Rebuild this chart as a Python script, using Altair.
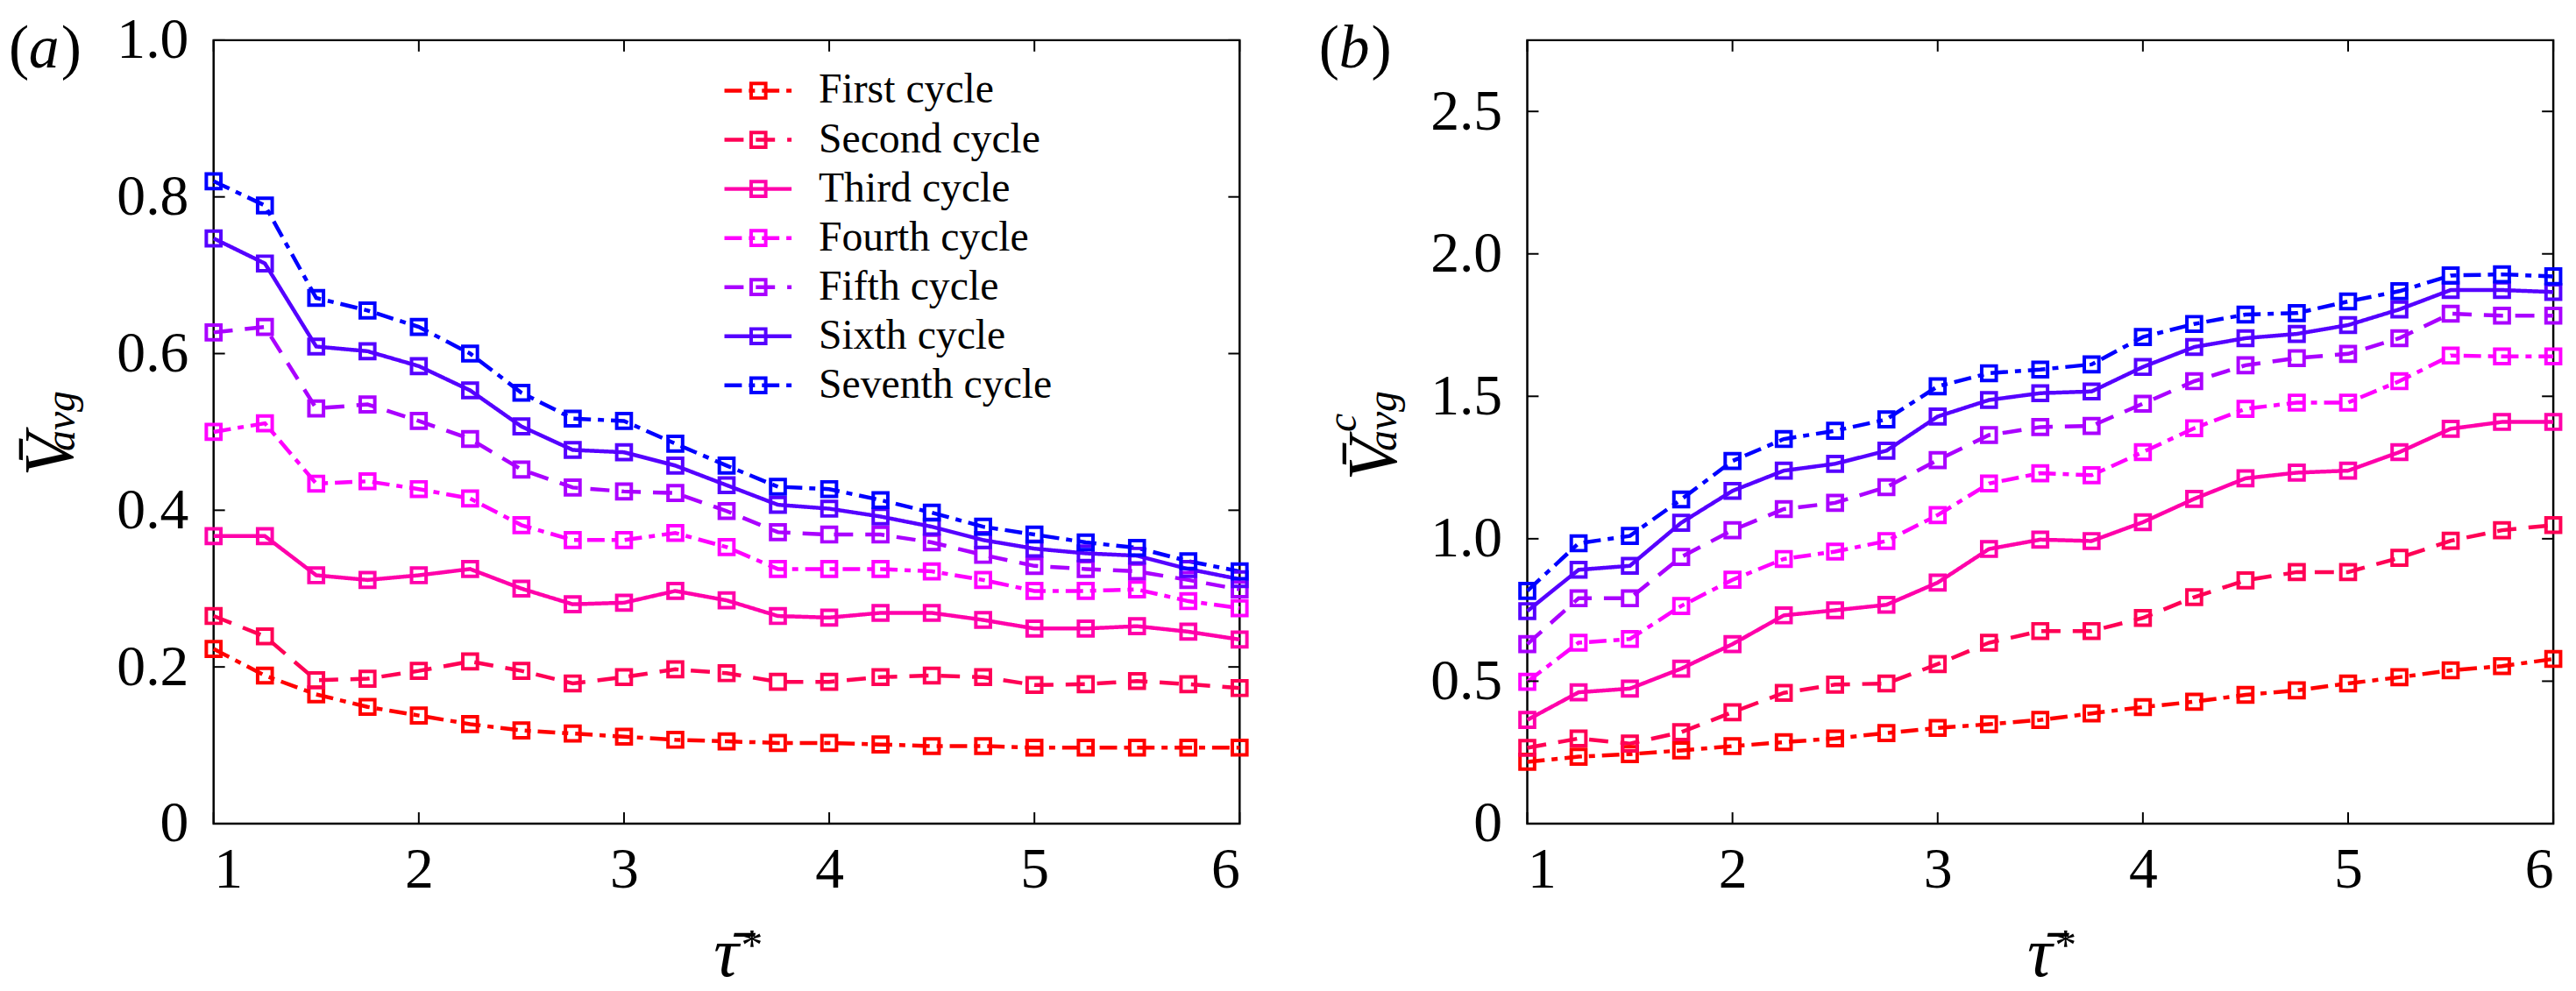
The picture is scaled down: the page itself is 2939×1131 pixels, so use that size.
import altair as alt
import pandas as pd

# ---------------- data ----------------
tau = [1.0, 1.25, 1.5, 1.75, 2.0, 2.25, 2.5, 2.75, 3.0, 3.25, 3.5,
       3.75, 4.0, 4.25, 4.5, 4.75, 5.0, 5.25, 5.5, 5.75, 6.0]

cycles = ["First cycle", "Second cycle", "Third cycle", "Fourth cycle",
          "Fifth cycle", "Sixth cycle", "Seventh cycle"]
colors = ["#FF0000", "#FF0055", "#FF00AA", "#FF00FF", "#AA00FF", "#5500FF", "#0000FF"]
dashes = [[20, 8, 7, 8], [22, 14], [1, 0], [20, 8, 7, 8], [22, 14], [1, 0], [20, 8, 7, 8]]

# panel (a): V_avg
a_first = [0.223, 0.189, 0.165, 0.149, 0.138, 0.127, 0.119, 0.115, 0.111, 0.107, 0.105,
           0.103, 0.103, 0.101, 0.099, 0.099, 0.097, 0.097, 0.097, 0.097, 0.097]
a_second = [0.265, 0.239, 0.183, 0.185, 0.195, 0.207, 0.195, 0.179, 0.187, 0.197, 0.192,
            0.181, 0.181, 0.187, 0.189, 0.187, 0.177, 0.178, 0.182, 0.178, 0.173]
a_third = [0.367, 0.367, 0.317, 0.311, 0.317, 0.325, 0.300, 0.280, 0.282, 0.297, 0.285,
           0.265, 0.263, 0.269, 0.269, 0.260, 0.249, 0.249, 0.252, 0.245, 0.235]
a_fourth = [0.500, 0.511, 0.434, 0.437, 0.427, 0.415, 0.381, 0.362, 0.362, 0.371, 0.353,
            0.325, 0.325, 0.325, 0.322, 0.311, 0.297, 0.297, 0.299, 0.284, 0.275]
a_fifth = [0.627, 0.634, 0.530, 0.535, 0.514, 0.491, 0.452, 0.429, 0.424, 0.422, 0.399,
           0.372, 0.369, 0.369, 0.359, 0.343, 0.329, 0.325, 0.322, 0.311, 0.299]
a_sixth = [0.747, 0.715, 0.609, 0.603, 0.584, 0.553, 0.507, 0.477, 0.474, 0.457, 0.432,
           0.407, 0.402, 0.392, 0.379, 0.362, 0.351, 0.345, 0.342, 0.325, 0.312]
a_seventh = [0.820, 0.789, 0.671, 0.655, 0.634, 0.600, 0.550, 0.517, 0.514, 0.485, 0.457,
             0.430, 0.427, 0.413, 0.397, 0.379, 0.369, 0.359, 0.352, 0.335, 0.322]

# panel (b): V^c_avg
b_first = [0.217, 0.235, 0.244, 0.257, 0.272, 0.286, 0.299, 0.318, 0.336, 0.349, 0.364,
           0.387, 0.409, 0.428, 0.452, 0.468, 0.492, 0.514, 0.538, 0.553, 0.578]
b_second = [0.266, 0.299, 0.281, 0.321, 0.391, 0.459, 0.488, 0.492, 0.560, 0.635, 0.676,
            0.676, 0.722, 0.795, 0.854, 0.883, 0.883, 0.933, 0.993, 1.030, 1.048]
b_third = [0.364, 0.461, 0.474, 0.544, 0.630, 0.731, 0.749, 0.768, 0.846, 0.964, 0.997,
           0.992, 1.058, 1.140, 1.212, 1.232, 1.239, 1.304, 1.386, 1.410, 1.410]
b_fourth = [0.498, 0.635, 0.648, 0.764, 0.856, 0.929, 0.955, 0.992, 1.083, 1.194, 1.230,
            1.223, 1.304, 1.388, 1.456, 1.478, 1.478, 1.553, 1.643, 1.640, 1.640]
b_fifth = [0.630, 0.791, 0.791, 0.936, 1.030, 1.104, 1.126, 1.181, 1.276, 1.364, 1.392,
           1.396, 1.474, 1.553, 1.609, 1.634, 1.649, 1.704, 1.790, 1.783, 1.783]
b_sixth = [0.746, 0.891, 0.905, 1.056, 1.168, 1.239, 1.263, 1.309, 1.429, 1.487, 1.511,
           1.517, 1.603, 1.673, 1.704, 1.719, 1.750, 1.805, 1.873, 1.873, 1.866]
b_seventh = [0.817, 0.984, 1.010, 1.138, 1.273, 1.350, 1.379, 1.419, 1.535, 1.581, 1.594,
             1.612, 1.708, 1.754, 1.787, 1.792, 1.833, 1.869, 1.924, 1.928, 1.921]

x_ticks = [1, 2, 3, 4, 5, 6]
a_y_ticks = [0, 0.2, 0.4, 0.6, 0.8, 1.0]
b_y_ticks = [0, 0.5, 1.0, 1.5, 2.0, 2.5]
a_y_domain = [0, 1.0]
b_y_domain = [0, 2.75]
legend_rows = [0, 1, 2, 3, 4, 5, 6]

# ---------------- style ----------------
W, H = 1177, 899
TICK = 13
FONT = "Liberation Serif"

color_enc = alt.Color("cycle:N", scale=alt.Scale(domain=cycles, range=colors), legend=None)
dash_enc = alt.StrokeDash("cycle:N", scale=alt.Scale(domain=cycles, range=dashes), legend=None)


def txt(s, x, y, size, italic=False, angle=0, align="left", baseline="alphabetic"):
    kw = dict(font=FONT, fontSize=size, align=align, baseline=baseline, color="black")
    if italic:
        kw["fontStyle"] = "italic"
    if angle:
        kw["angle"] = angle
    return alt.Chart(pd.DataFrame({"t": [s]})).mark_text(**kw).encode(
        x=alt.value(x), y=alt.value(y), text="t:N")


def make_panel(series, y_domain, y_ticks, label_marks, with_legend):
    rows = []
    for c, vals in zip(cycles, series):
        for t, v in zip(tau, vals):
            rows.append({"tau": t, "value": v, "cycle": c})
    df = pd.DataFrame(rows)

    xenc = alt.X("tau:Q", scale=alt.Scale(domain=[1, 6], nice=False, zero=False),
                 axis=alt.Axis(values=x_ticks, format="d", title=None, labelPadding=21,
                               ticks=False, domain=False, grid=False))
    yenc = alt.Y("value:Q", scale=alt.Scale(domain=y_domain, nice=False, zero=False),
                 axis=alt.Axis(values=y_ticks, title=None, labelPadding=29,
                               labelExpr="datum.value == 0 ? '0' : format(datum.value, '.1f')",
                               ticks=False, domain=False, grid=False))

    base = alt.Chart(df)
    lines = base.mark_line(strokeWidth=4.5).encode(x=xenc, y=yenc, color=color_enc,
                                                   strokeDash=dash_enc)
    pts = base.mark_point(shape="square", size=280, strokeWidth=4, filled=False,
                          opacity=1).encode(x=xenc, y=yenc, color=color_enc)

    xt = pd.DataFrame({"tau": x_ticks})
    yt = pd.DataFrame({"value": y_ticks})
    rule = dict(color="black", strokeWidth=2)
    bottom = alt.Chart(xt).mark_rule(**rule).encode(x=xenc, y=alt.value(H), y2=alt.value(H - TICK))
    top = alt.Chart(xt).mark_rule(**rule).encode(x=xenc, y=alt.value(0), y2=alt.value(TICK))
    left = alt.Chart(yt).mark_rule(**rule).encode(y=yenc, x=alt.value(0), x2=alt.value(TICK))
    right = alt.Chart(yt).mark_rule(**rule).encode(y=yenc, x=alt.value(W), x2=alt.value(W - TICK))

    inner = alt.layer(lines, pts, bottom, top, left, right, *label_marks)

    if with_legend:
        leg = pd.DataFrame({"cycle": cycles, "row": legend_rows})
        ly = alt.Y("row:Q", scale=alt.Scale(domain=[0, 6], range=[58, 396]), axis=None)
        lc = alt.Chart(leg)
        l_rule = lc.mark_rule(strokeWidth=4.5).encode(
            x=alt.value(586), x2=alt.value(663), y=ly, color=color_enc, strokeDash=dash_enc)
        l_pt = lc.mark_point(shape="square", size=280, strokeWidth=4, filled=False,
                             opacity=1).encode(x=alt.value(625), y=ly, color=color_enc)
        l_txt = lc.mark_text(font=FONT, fontSize=48, align="left", baseline="middle",
                             color="black").encode(x=alt.value(694), y=ly, text="cycle:N")
        panel = alt.layer(inner, alt.layer(l_rule, l_pt, l_txt)).resolve_scale(y="independent")
    else:
        panel = inner
    return panel.properties(width=W, height=H)


labels_a = [
    txt("(", -235, 31, 70),
    txt("a", -212, 31, 70, italic=True),
    txt(")", -175, 31, 70),
    txt("V\u0304", -162, 476, 80, italic=True, angle=270, align="center"),
    txt("avg", -160, 437, 48, italic=True, angle=270, align="center"),
    txt("\u03c4\u0304", 588, 1074, 80, italic=True, align="center"),
    txt("*", 605, 1055, 50, align="left"),
]
labels_b = [
    txt("(", -239, 31, 70),
    txt("b", -216, 31, 70, italic=True),
    txt(")", -179, 31, 70),
    txt("V\u0304", -150, 481, 80, italic=True, angle=270, align="center"),
    txt("c", -197, 439, 48, italic=True, angle=270, align="center"),
    txt("avg", -150, 437, 48, italic=True, angle=270, align="center"),
    txt("\u03c4\u0304", 588, 1074, 80, italic=True, align="center"),
    txt("*", 605, 1055, 50, align="left"),
]

pa = make_panel([a_first, a_second, a_third, a_fourth, a_fifth, a_sixth, a_seventh],
                a_y_domain, a_y_ticks, labels_a, True)
pb = make_panel([b_first, b_second, b_third, b_fourth, b_fifth, b_sixth, b_seventh],
                b_y_domain, b_y_ticks, labels_b, False)

chart = alt.hconcat(pa, pb, spacing=71).properties(
    padding={"left": 0, "top": 0, "right": 0, "bottom": 0}
).configure_view(stroke="black", strokeWidth=2.5).configure_axis(
    labelFont=FONT, labelFontSize=66, labelColor="black"
)

chart.save("out.html", embed_options={"renderer": "svg", "actions": False})
